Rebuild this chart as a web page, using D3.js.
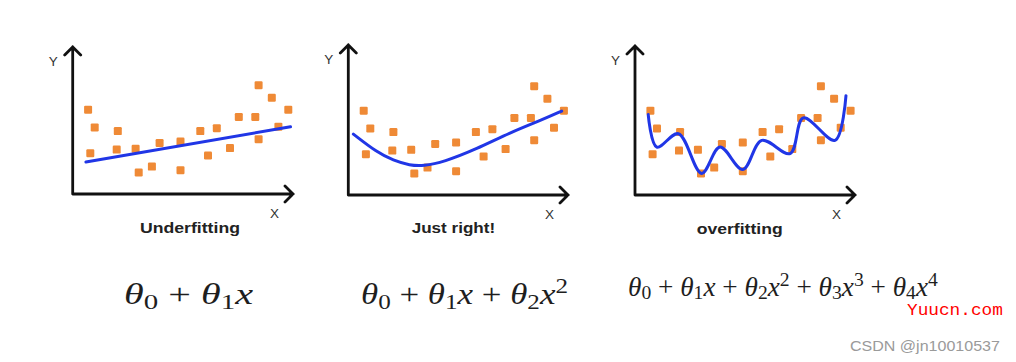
<!DOCTYPE html>
<html>
<head>
<meta charset="utf-8">
<script src="https://cdn.jsdelivr.net/npm/d3@7"></script>
<style>
  html, body { margin: 0; padding: 0; background: #fff; }
  svg { display: block; }
</style>
</head>
<body>
<div id="chart"></div>
<script>
    const width = 1016, height = 362;

    // sample points (same data in every panel), axis units 0..100
    const pointX = [7, 10, 8, 20.5, 20, 28.6, 30, 36, 39.5, 49, 49, 58, 61.5, 65.5, 71.5, 75.5, 83, 84.5, 84.5, 90.5, 93.5, 98];
    const pointY = [57, 45, 27.5, 42.5, 30, 30.5, 14.5, 18.5, 34.5, 35.5, 16, 42.5, 26, 44.5, 31, 52, 52, 73.5, 37, 65, 45.5, 57];

    // fitted curves
    const linearX = [6, 99];
    const linearY = [21.6, 45.4];
    const quadX = [2.3, 12.9, 20.5, 28, 34.1, 43.2, 58.4, 73.5, 88.6, 97];
    const quadY = [41.1, 28.9, 23.3, 20, 19.6, 22.2, 31.1, 42.2, 51.1, 56.7];
    const overX = [6, 9.9, 19.7, 30.3, 38.6, 49, 57.6, 70.5, 76.5, 90.9, 95.9];
    const overY = [54.4, 32.4, 41.4, 14.6, 32.4, 17.2, 36.9, 28, 52.1, 36.9, 67.1];

    const titles = ["Underfitting", "Just right!", "overfitting"];

    // formulas as [text, style] tokens
    const formula1 = [["θ", "i"], ["0", "sub"], ["\u2005+\u2005", ""], ["θ", "i"], ["1", "sub"], ["x", "i"]];
    const formula2 = [["θ", "i"], ["0", "sub"], ["\u2005+\u2005", ""], ["θ", "i"], ["1", "sub"], ["x", "i"],
                      ["\u2005+\u2005", ""], ["θ", "i"], ["2", "sub"], ["x", "i"], ["2", "sup"]];
    const formula3 = [["θ", "i"], ["0", "sub"], ["\u2005+\u2005", ""], ["θ", "i"], ["1", "sub"], ["x", "i"],
                      ["\u2005+\u2005", ""], ["θ", "i"], ["2", "sub"], ["x", "i"], ["2", "sup"],
                      ["\u2005+\u2005", ""], ["θ", "i"], ["3", "sub"], ["x", "i"], ["3", "sup"],
                      ["\u2005+\u2005", ""], ["θ", "i"], ["4", "sub"], ["x", "i"], ["4", "sup"]];

    const panels = [
        { ox: 72.7, oy: 194, top: 47, tip: 293, fx: linearX, fy: linearY, curve: d3.curveLinear,
          tx: 140, tw: 100, ty: 233, formula: formula1, fpx: 124, fw: 129, fpy: 304, fs: 30, sub: 0.18 },
        { ox: 348.3, oy: 195, top: 45, tip: 568, fx: quadX, fy: quadY, curve: d3.curveBasis,
          tx: 411.7, tw: 83.5, ty: 233, formula: formula2, fpx: 361, fw: 207, fpy: 304, fs: 30, sub: 0.18 },
        { ox: 635, oy: 195, top: 46, tip: 855, fx: overX, fy: overY, curve: d3.curveCatmullRom.alpha(0.5),
          tx: 696.7, tw: 86, ty: 234, formula: formula3, fpx: 628, fw: 310, fpy: 296, fs: 26.5, sub: 0.13 }
    ];

    const svg = d3.select("#chart")
        .append("svg")
        .attr("width", width)
        .attr("height", height);

    svg.append("rect").attr("width", width).attr("height", height).attr("fill", "#fff");

    // squeeze/stretch a text element so it spans the given width
    function fitWidth(t, x, y, w) {
        const len = t.node().getComputedTextLength();
        t.attr("transform", `translate(${x},${y}) scale(${w / len},1)`);
    }

    function drawFormula(tokens, x, y, size, w, sub) {
        const t = svg.append("text")
            .attr("font-family", "Liberation Serif, Times New Roman, serif")
            .attr("font-size", size)
            .attr("fill", "#1e1e1e");
        let shift = 0;
        tokens.forEach(([s, kind]) => {
            const target = kind === "sub" ? size * sub : kind === "sup" ? -size * 0.38 : 0;
            const ts = t.append("tspan").text(s).attr("dy", target - shift);
            shift = target;
            if (kind === "i") ts.attr("font-style", "italic");
            if (kind === "sub" || kind === "sup") ts.attr("font-size", size * 0.72);
        });
        fitWidth(t, x, y, w);
    }

    panels.forEach((p, i) => {
        const g = svg.append("g");
        const x = d3.scaleLinear().domain([0, 100]).range([p.ox, p.ox + 220]);
        const y = d3.scaleLinear().domain([0, 100]).range([p.oy, p.oy - 148]);

        // axes with open arrow heads
        const a = 8;
        g.append("path")
            .attr("d", `M${p.ox},${p.oy} L${p.ox},${p.top} M${p.ox - a},${p.top + a} L${p.ox},${p.top} L${p.ox + a},${p.top + a}` +
                       ` M${p.ox},${p.oy} L${p.tip},${p.oy} M${p.tip - a},${p.oy - a} L${p.tip},${p.oy} L${p.tip - a},${p.oy + a}`)
            .attr("fill", "none")
            .attr("stroke", "#111")
            .attr("stroke-width", 2.8)
            .attr("stroke-linecap", "round")
            .attr("stroke-linejoin", "miter");

        g.append("text")
            .attr("x", p.ox - 19.5).attr("y", p.top + 18.5)
            .attr("text-anchor", "middle")
            .attr("font-family", "'Liberation Sans', Arial, sans-serif")
            .attr("font-size", 13.5)
            .attr("fill", "#333")
            .text("Y");
        g.append("text")
            .attr("x", p.tip - 18.5).attr("y", p.oy + 23.5)
            .attr("text-anchor", "middle")
            .attr("font-family", "'Liberation Sans', Arial, sans-serif")
            .attr("font-size", 13.5)
            .attr("fill", "#333")
            .text("X");

        // data squares
        g.selectAll("rect.pt")
            .data(d3.range(pointX.length))
            .join("rect")
            .attr("class", "pt")
            .attr("x", j => x(pointX[j]) - 4)
            .attr("y", j => y(pointY[j]) - 4)
            .attr("width", 8)
            .attr("height", 8)
            .attr("rx", 1.2)
            .attr("fill", "#ef8a36");

        // fitted curve
        const line = d3.line()
            .x(j => x(p.fx[j]))
            .y(j => y(p.fy[j]))
            .curve(p.curve);
        g.append("path")
            .attr("d", line(d3.range(p.fx.length)))
            .attr("fill", "none")
            .attr("stroke", "#2036e6")
            .attr("stroke-width", 3)
            .attr("stroke-linecap", "round");

        const title = g.append("text")
            .attr("font-family", "'Liberation Sans', Arial, sans-serif")
            .attr("font-weight", "bold")
            .attr("font-size", 14.5)
            .attr("fill", "#222")
            .text(titles[i]);
        fitWidth(title, p.tx, p.ty, p.tw);

        drawFormula(p.formula, p.fpx, p.fpy, p.fs, p.fw, p.sub);
    });

    // watermarks
    const wm = svg.append("text")
        .attr("font-family", "'Liberation Mono', monospace")
        .attr("font-size", 17)
        .attr("fill", "#ff0000")
        .text("Yuucn.com");
    fitWidth(wm, 907, 315, 96);

    const csdn = svg.append("text")
        .attr("font-family", "'Liberation Sans', Arial, sans-serif")
        .attr("font-size", 15)
        .attr("fill", "#9a9a9a")
        .text("CSDN @jn10010537");
    fitWidth(csdn, 850, 351, 150);
</script>
</body>
</html>
